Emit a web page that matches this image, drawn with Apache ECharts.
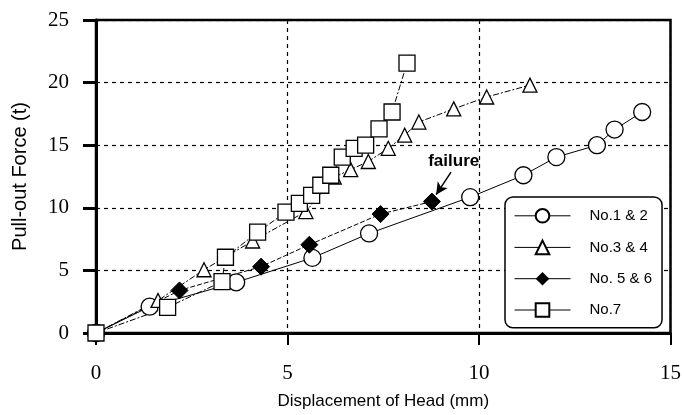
<!DOCTYPE html>
<html>
<head>
<meta charset="utf-8">
<script src="https://cdn.jsdelivr.net/npm/echarts@6/dist/echarts.min.js"></script>
<style>
  html, body { margin: 0; padding: 0; background: #fff; }
  #chart { width: 684px; height: 415px; }
</style>
</head>
<body>
<div id="chart"></div>
<script>
// readings: [displacement mm, force t]
const no12 = [[0, 0], [1.4, 2.1], [3.66, 4.05], [5.65, 6.0], [7.13, 7.95], [9.77, 10.85],
  [11.16, 12.6], [12.02, 14.05], [13.08, 15.0], [13.54, 16.25], [14.26, 17.65]]
const no34 = [[0, 0], [1.62, 2.6], [2.82, 5.05], [4.09, 7.35], [5.48, 9.7], [6.22, 12.45],
  [6.65, 13.05], [7.11, 13.7], [7.63, 14.75], [8.06, 15.8], [8.43, 16.85], [9.34, 17.9],
  [10.2, 18.85], [11.33, 19.8]]
const no56 = [[0, 0], [2.18, 3.4], [4.31, 5.3], [5.57, 7.05], [7.43, 9.5], [8.77, 10.5]]
const no7 = [[0, 0], [1.87, 2.05], [3.29, 4.1], [3.38, 6.05], [4.22, 8.05], [4.96, 9.65],
  [5.31, 10.35], [5.63, 11.0], [5.87, 11.8], [6.13, 12.6], [6.43, 14.05], [6.74, 14.75],
  [7.04, 15.0], [7.39, 16.3], [7.73, 17.65], [8.12, 21.55]]
const seriesNames = ['No.1 & 2', 'No.3 & 4', 'No. 5 & 6', 'No.7']
// "failure" note: text spot, arrow start, arrow tip
const failureText = [9.34, 13.75]
const failureArrow = [[9.27, 12.85], [8.88, 11.05]]

const chart = echarts.init(document.getElementById('chart'))

const tickFont = { fontFamily: 'Liberation Serif', fontSize: 21, color: '#000' }
const nameFont = { fontFamily: 'Liberation Sans', fontSize: 17, color: '#000' }
const openStyle = { color: '#fff', borderColor: '#000', borderWidth: 1.3 }

function mkSeries(name, data, symbol, size, itemStyle, lineType) {
  return {
    name: name,
    type: 'line',
    data: data,
    symbol: symbol,
    symbolSize: size,
    showAllSymbol: true,
    itemStyle: itemStyle,
    lineStyle: { color: '#000', width: 1, type: lineType },
    emphasis: { disabled: true },
    animation: false
  }
}

const s56 = mkSeries(seriesNames[2], no56, 'diamond', [17, 17], { color: '#000', borderColor: '#000' }, [5, 2])
s56.markLine = {
  silent: true,
  symbol: ['none', 'arrow'],
  symbolSize: [9, 12],
  label: { show: false },
  lineStyle: { color: '#000', width: 1.5, type: 'solid' },
  data: [[{ coord: failureArrow[0] }, { coord: failureArrow[1] }]]
}
s56.markPoint = {
  symbol: 'circle',
  symbolSize: 1,
  itemStyle: { color: 'transparent' },
  label: {
    show: true,
    position: 'inside',
    formatter: 'failure',
    fontFamily: 'Liberation Sans',
    fontWeight: 'bold',
    fontSize: 17,
    color: '#000'
  },
  data: [{ coord: failureText }]
}

chart.setOption({
  backgroundColor: '#fff',
  grid: {
    left: 96, right: 11, top: 20, bottom: 82,
    show: true, borderColor: '#000', borderWidth: 2.5
  },
  legend: {
    orient: 'vertical',
    left: 505, top: 197,
    width: 160, height: 131,
    padding: [11, 10, 10, 9],
    itemWidth: 56, itemHeight: 17, itemGap: 16,
    backgroundColor: '#fff',
    borderColor: '#000', borderWidth: 1.5, borderRadius: 8,
    lineStyle: { type: 'solid', width: 1 },
    textStyle: { fontFamily: 'Liberation Sans', fontSize: 15, color: '#000', padding: [0, 0, 0, 14] },
    data: seriesNames
  },
  xAxis: {
    type: 'value',
    min: 0, max: 15, interval: 5,
    name: 'Displacement of Head (mm)',
    nameLocation: 'middle', nameGap: 60,
    nameTextStyle: nameFont,
    axisLine: { onZero: false, lineStyle: { color: '#000', width: 3 } },
    axisTick: { show: true, inside: false, length: 12, lineStyle: { color: '#000', width: 2 } },
    axisLabel: Object.assign({ margin: 30 }, tickFont),
    splitLine: { show: true, lineStyle: { color: '#000', width: 1.2, type: [4, 4] } }
  },
  yAxis: {
    type: 'value',
    min: 0, max: 25, interval: 5,
    name: 'Pull-out Force (t)',
    nameLocation: 'middle', nameGap: 66,
    nameTextStyle: { fontFamily: 'Liberation Sans', fontSize: 20, color: '#000' },
    axisLine: { show: true, onZero: false, lineStyle: { color: '#000', width: 3 } },
    axisTick: { show: true, inside: false, length: 13, lineStyle: { color: '#000', width: 3 } },
    axisLabel: Object.assign({ margin: 27 }, tickFont),
    splitLine: { show: true, lineStyle: { color: '#000', width: 1.2, type: [4, 4] } }
  },
  series: [
    mkSeries(seriesNames[0], no12, 'circle', 17, openStyle, 'solid'),
    mkSeries(seriesNames[1], no34, 'triangle', 14, openStyle, [6, 2, 2, 2]),
    s56,
    mkSeries(seriesNames[3], no7, 'rect', 16, openStyle, [6, 2, 2, 2])
  ]
})
</script>
</body>
</html>
